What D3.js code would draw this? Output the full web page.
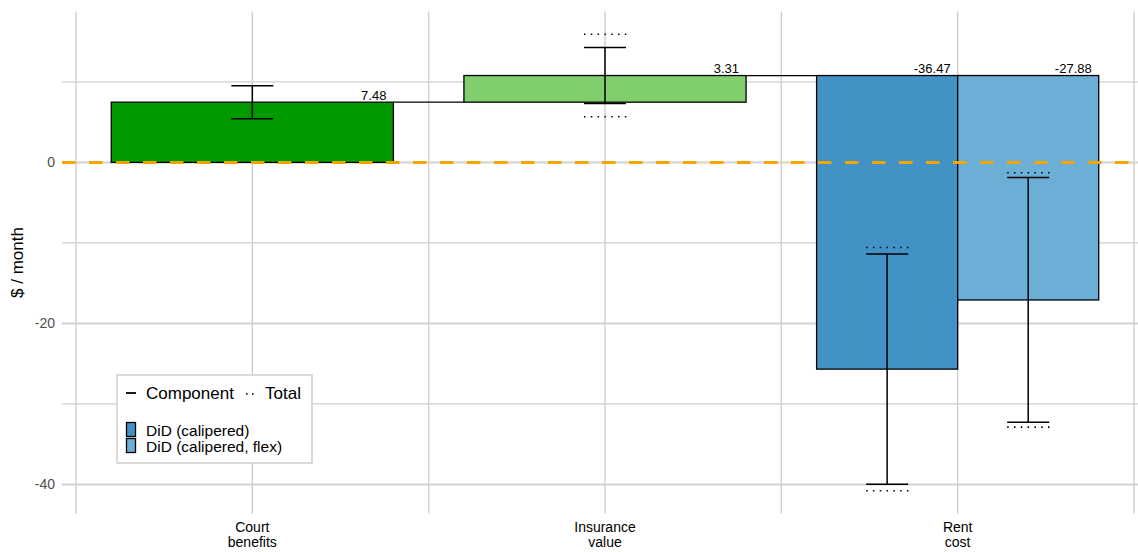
<!DOCTYPE html>
<html>
<head>
<meta charset="utf-8">
<script src="https://cdn.jsdelivr.net/npm/d3@7"></script>
<style>
  html, body { margin: 0; padding: 0; background: #fff; }
  svg { display: block; font-family: "Liberation Sans", Arial, Helvetica, sans-serif; }
</style>
</head>
<body>
<svg id="chart" width="1138" height="552"></svg>
<script>
// Waterfall of monthly components, with component and total confidence intervals
const categories = ["Court benefits", "Insurance value", "Rent cost"];
const categoryLabels = [["Court", "benefits"], ["Insurance", "value"], ["Rent", "cost"]];

// one entry per bar
const barCategory = ["Court benefits", "Insurance value", "Rent cost", "Rent cost"];
const barSpec     = [null, null, "DiD (calipered)", "DiD (calipered, flex)"];
const barEffect   = [7.48, 3.31, -36.47, -27.88];
const componentHalfCI = [2.05, 3.48, 14.3, 15.2];
const totalHalfCI     = [null, 5.12, 15.1, 15.8];
const barColor    = ["#009900", "#80CE6C", "#4292C6", "#6BAED6"];

const legendSpecs  = ["DiD (calipered)", "DiD (calipered, flex)"];
const legendColors = ["#4292C6", "#6BAED6"];

const yMajorTicks = [-40, -20, 0];
const yMinorTicks = [-30, -10, 10];

// ---- derived waterfall geometry ----
const bars = [];
let running = 0;
categories.forEach(cat => {
  const idx = barCategory.map((c, i) => c === cat ? i : -1).filter(i => i >= 0);
  const start = running;
  idx.forEach((i, k) => {
    bars.push({
      cat, catIndex: categories.indexOf(cat), spec: barSpec[i],
      start, end: start + barEffect[i], effect: barEffect[i],
      compHalf: componentHalfCI[i], totHalf: totalHalfCI[i],
      color: barColor[i], k, n: idx.length
    });
  });
  running = start + barEffect[idx[0]];
});

const svg = d3.select("#chart");
const panel = { left: 62, right: 1138, top: 11.5, bottom: 513.5 };

// y domain from the data with 5% padding
const yVals = [];
bars.forEach(b => {
  yVals.push(b.start, b.end, b.end + b.compHalf, b.end - b.compHalf);
  if (b.totHalf != null) yVals.push(b.end + b.totHalf, b.end - b.totHalf);
});
const yLo = d3.min(yVals), yHi = d3.max(yVals), pad = (yHi - yLo) * 0.05;
const y = d3.scaleLinear().domain([yLo - pad, yHi + pad]).range([panel.bottom, panel.top]);
const x = d3.scaleLinear().domain([0.5, 3.5]).range([76, 1134]);

const fullWidth = 0.8;
bars.forEach(b => {
  const w = fullWidth / b.n;
  const c = b.catIndex + 1;
  b.x0 = c - fullWidth / 2 + b.k * w;
  b.x1 = b.x0 + w;
  b.xc = (b.x0 + b.x1) / 2;
});

// ---- grid ----
const grid = svg.append("g");
const vLines = [0.5, 1, 1.5, 2, 2.5, 3, 3.5];
grid.selectAll("line.v").data(vLines).join("line")
  .attr("x1", d => x(d)).attr("x2", d => x(d))
  .attr("y1", panel.top).attr("y2", panel.bottom)
  .attr("stroke", "#cfcfcf").attr("stroke-width", 1.4);
grid.selectAll("line.hmin").data(yMinorTicks).join("line")
  .attr("x1", panel.left).attr("x2", panel.right)
  .attr("y1", d => y(d)).attr("y2", d => y(d))
  .attr("stroke", "#cfcfcf").attr("stroke-width", 1.4);
grid.selectAll("line.hmaj").data(yMajorTicks).join("line")
  .attr("x1", panel.left).attr("x2", panel.right)
  .attr("y1", d => y(d)).attr("y2", d => y(d))
  .attr("stroke", "#d2d2d2").attr("stroke-width", 2);

// y axis labels (plain hyphen minus sign)
const yAxis = d3.axisLeft(y).tickValues(yMajorTicks).tickSize(0).tickPadding(0)
  .tickFormat(d => String(d));
const yAxisG = svg.append("g").attr("transform", `translate(${panel.left - 7},0)`).call(yAxis);
yAxisG.select(".domain").remove();
yAxisG.selectAll("text").attr("fill", "#4d4d4d").attr("font-size", 14)
  .attr("font-family", "Liberation Sans, Arial, sans-serif");

svg.append("text")
  .attr("transform", `translate(23,${(panel.top + panel.bottom) / 2}) rotate(-90)`)
  .attr("text-anchor", "middle").attr("font-size", 17).attr("fill", "#000")
  .text("$ / month");

// x labels (two lines)
const xl = svg.append("g");
categoryLabels.forEach((lines, i) => {
  const t = xl.append("text").attr("text-anchor", "middle")
    .attr("font-size", 14).attr("fill", "#000");
  lines.forEach((ln, j) => {
    t.append("tspan").attr("x", x(i + 1)).attr("y", 532 + j * 14.5).text(ln);
  });
});

// ---- connectors between consecutive categories ----
const conn = svg.append("g");
for (let c = 0; c < categories.length - 1; c++) {
  const from = bars.filter(b => b.catIndex === c);
  const to = bars.filter(b => b.catIndex === c + 1);
  const last = from[from.length - 1];
  conn.append("line")
    .attr("x1", x(last.x1)).attr("x2", x(to[0].x0))
    .attr("y1", y(to[0].start)).attr("y2", y(to[0].start))
    .attr("stroke", "#000").attr("stroke-width", 1.3);
}

// ---- bars ----
svg.append("g").selectAll("rect").data(bars).join("rect")
  .attr("x", d => x(d.x0))
  .attr("width", d => x(d.x1) - x(d.x0))
  .attr("y", d => y(Math.max(d.start, d.end)))
  .attr("height", d => Math.abs(y(d.start) - y(d.end)))
  .attr("fill", d => d.color)
  .attr("stroke", "#000").attr("stroke-width", 1.3);

// ---- zero reference line ----
svg.append("line")
  .attr("x1", panel.left).attr("x2", panel.right)
  .attr("y1", y(0)).attr("y2", y(0))
  .attr("stroke", "#F5A500").attr("stroke-width", 3)
  .attr("stroke-dasharray", "13.5,13.5").attr("stroke-dashoffset", 0);

// ---- error bars ----
const capHalf = 21;
const eb = svg.append("g");
bars.forEach(b => {
  const cx = x(b.xc);
  // component interval (solid)
  const lo = y(b.end - b.compHalf), hi = y(b.end + b.compHalf);
  eb.append("line").attr("x1", cx).attr("x2", cx).attr("y1", lo).attr("y2", hi)
    .attr("stroke", "#000").attr("stroke-width", 1.5);
  [lo, hi].forEach(yy => eb.append("line")
    .attr("x1", cx - capHalf).attr("x2", cx + capHalf).attr("y1", yy).attr("y2", yy)
    .attr("stroke", "#000").attr("stroke-width", 1.5));
  // total interval (dotted caps)
  if (b.totHalf != null) {
    [y(b.end - b.totHalf), y(b.end + b.totHalf)].forEach(yy => eb.append("line")
      .attr("x1", cx - capHalf).attr("x2", cx + capHalf + 1).attr("y1", yy).attr("y2", yy)
      .attr("stroke", "#000").attr("stroke-width", 1.6)
      .attr("stroke-dasharray", "1.5,5.3"));
  }
});

// ---- value labels ----
svg.append("g").selectAll("text").data(bars).join("text")
  .attr("x", d => x(d.x1) - 7)
  .attr("y", d => y(Math.max(d.start, d.end)) - 2.5)
  .attr("text-anchor", "end").attr("font-size", 13).attr("fill", "#000")
  .text(d => d.effect.toFixed(2));

// ---- legend ----
const lg = svg.append("g").attr("transform", "translate(117,375)");
lg.append("rect").attr("x", 0).attr("y", 0).attr("width", 195).attr("height", 88)
  .attr("fill", "#fff").attr("stroke", "#cccccc").attr("stroke-width", 1.4);
lg.append("line").attr("x1", 9).attr("x2", 19).attr("y1", 18).attr("y2", 18)
  .attr("stroke", "#000").attr("stroke-width", 1.8);
lg.append("text").attr("x", 29).attr("y", 24).attr("font-size", 17).text("Component");
lg.append("line").attr("x1", 129).attr("x2", 137).attr("y1", 19).attr("y2", 19)
  .attr("stroke", "#000").attr("stroke-width", 1.6).attr("stroke-dasharray", "1.6,4.4");
lg.append("text").attr("x", 148).attr("y", 24).attr("font-size", 17).text("Total");
legendSpecs.forEach((s, i) => {
  lg.append("rect").attr("x", 9.5).attr("y", 47.5 + i * 16).attr("width", 9).attr("height", 14)
    .attr("fill", legendColors[i]).attr("stroke", "#000").attr("stroke-width", 1.3);
  lg.append("text").attr("x", 29).attr("y", 60.5 + i * 16).attr("font-size", 15.5).text(s);
});
</script>
</body>
</html>
